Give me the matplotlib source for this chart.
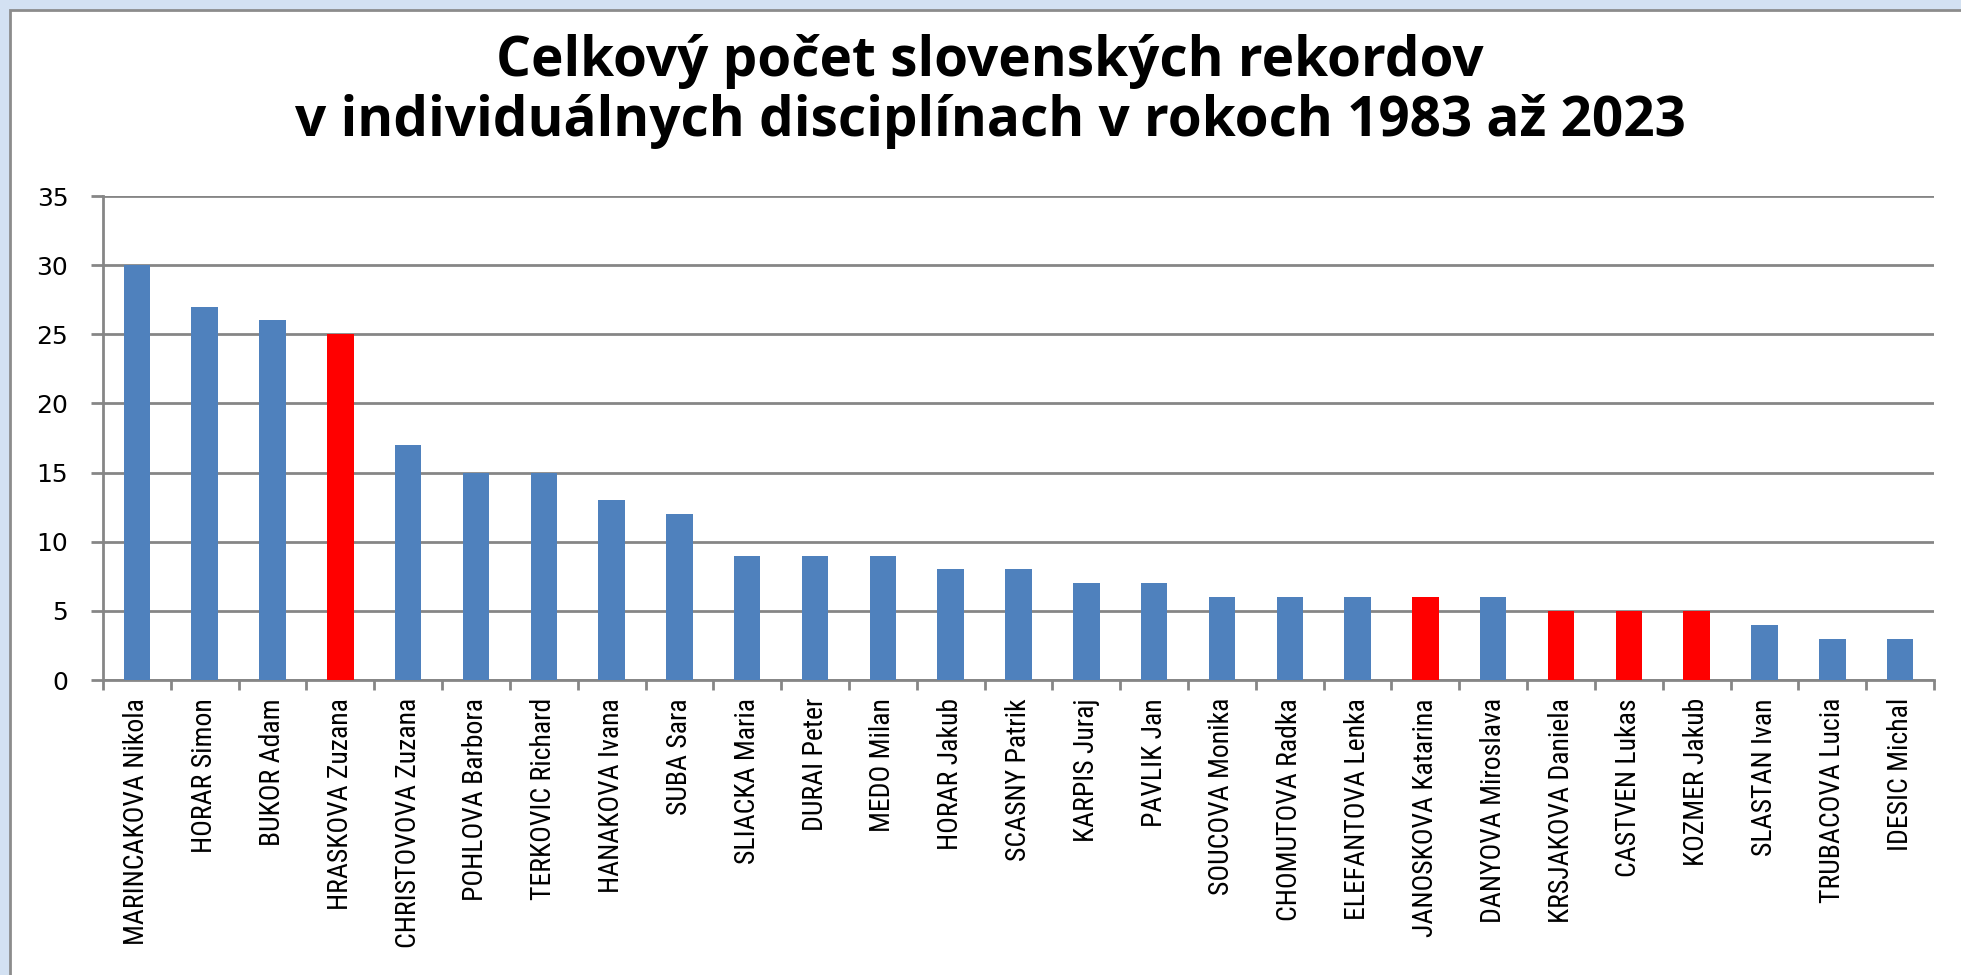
import matplotlib
matplotlib.use("Agg")
import matplotlib.pyplot as plt
from matplotlib.patches import Rectangle
from matplotlib import font_manager as fm
import numpy as np

names = ["MARINCAKOVA Nikola", "HORAR Simon", "BUKOR Adam", "HRASKOVA Zuzana",
         "CHRISTOVOVA Zuzana", "POHLOVA Barbora", "TERKOVIC Richard", "HANAKOVA Ivana",
         "SUBA Sara", "SLIACKA Maria", "DURAI Peter", "MEDO Milan", "HORAR Jakub",
         "SCASNY Patrik", "KARPIS Juraj", "PAVLIK Jan", "SOUCOVA Monika",
         "CHOMUTOVA Radka", "ELEFANTOVA Lenka", "JANOSKOVA Katarina",
         "DANYOVA Miroslava", "KRSJAKOVA Daniela", "CASTVEN Lukas", "KOZMER Jakub",
         "SLASTAN Ivan", "TRUBACOVA Lucia", "IDESIC Michal"]
records = [30, 27, 26, 25, 17, 15, 15, 13, 12, 9, 9, 9, 8, 8, 7, 7, 6, 6, 6, 6, 6,
           5, 5, 5, 4, 3, 3]
highlighted = ["HRASKOVA Zuzana", "JANOSKOVA Katarina", "KRSJAKOVA Daniela",
               "CASTVEN Lukas", "KOZMER Jakub"]
yticks = [0, 5, 10, 15, 20, 25, 30, 35]

# choose a narrow font for the category labels if one is installed
installed = {f.name for f in fm.fontManager.ttflist}
label_font, label_size = "Roboto", 18
for cand, size in [("Liberation Sans Narrow", 21), ("DejaVu Sans Condensed", 18),
                   ("Roboto Condensed", 20), ("Open Sans Condensed", 20)]:
    if cand in installed:
        label_font, label_size = cand, size
        break

W, H = 1961, 975
fig = plt.figure(figsize=(W / 100, H / 100), dpi=100)
fig.patch.set_facecolor("#D3E1F2")

panel = Rectangle((10 / W, -0.01), 1.02, 1 - 10 / H + 0.01, transform=fig.transFigure,
                  facecolor="white", edgecolor="#8C8C8C", linewidth=2, zorder=-10)
fig.patches.append(panel)

ax = fig.add_axes([103 / W, 1 - 680 / H, (1934 - 103) / W, (680 - 196) / H])
ax.set_facecolor("none")
ax.set_zorder(1)

x = np.arange(len(names))
colors = ["#FF0000" if n in highlighted else "#4F81BD" for n in names]
ax.bar(x, records, width=0.39, color=colors, zorder=3)

ax.set_xlim(-0.5, len(names) - 0.5)
ax.set_ylim(0, 35)
ax.set_yticks(yticks)
ax.set_yticklabels([str(v) for v in yticks], fontsize=18, family=["DejaVu Sans"])
ax.yaxis.grid(True, color="#868686", linewidth=2, zorder=0)
ax.set_axisbelow(True)

ax.set_xticks(x)
ax.set_xticklabels(names, rotation=90, fontsize=label_size,
                   family=[label_font, "DejaVu Sans"])
ax.set_xticks(np.arange(len(names) + 1) - 0.5, minor=True)
ax.tick_params(axis="x", which="major", length=0, pad=13)
ax.tick_params(axis="x", which="minor", length=7, width=2, color="#868686", direction="out")
ax.tick_params(axis="y", length=9, width=2, color="#868686", direction="out", pad=16)

for s in ["top", "right"]:
    ax.spines[s].set_visible(False)
for s in ["left", "bottom"]:
    ax.spines[s].set_color("#868686")
    ax.spines[s].set_linewidth(2)

fig.text(0.505, 1 - 76 / H, "Celkový počet slovenských rekordov", ha="center",
         va="baseline", fontsize=39.5, fontweight="bold", family=["Open Sans", "DejaVu Sans"])
fig.text(0.505, 1 - 136 / H, "v individuálnych disciplínach v rokoch 1983 až 2023",
         ha="center", va="baseline", fontsize=39.5, fontweight="bold",
         family=["Open Sans", "DejaVu Sans"])

fig.savefig("out.png", dpi=100, facecolor=fig.get_facecolor())
